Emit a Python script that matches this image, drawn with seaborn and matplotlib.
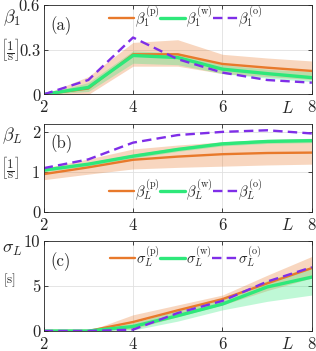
import numpy as np
import pandas as pd
import matplotlib
matplotlib.use('Agg')
import matplotlib.pyplot as plt
import seaborn as sns

sns.set_style('ticks')
plt.rcParams['font.family'] = ['cmr10', 'DejaVu Serif']
plt.rcParams['mathtext.fontset'] = 'cm'
plt.rcParams['axes.formatter.use_mathtext'] = True

# data
L = [2, 3, 4, 5, 6, 7, 8]

b1_p = [0, 0.04, 0.27, 0.27, 0.205, 0.18, 0.158]
b1_p_lo = [0, 0.0, 0.19, 0.19, 0.14, 0.12, 0.10]
b1_p_hi = [0, 0.12, 0.35, 0.368, 0.27, 0.245, 0.225]
b1_w = [0, 0.047, 0.262, 0.248, 0.17, 0.14, 0.113]
b1_w_lo = [0, 0.02, 0.21, 0.2, 0.14, 0.11, 0.086]
b1_w_hi = [0, 0.08, 0.293, 0.28, 0.2, 0.17, 0.153]
b1_o = [0, 0.097, 0.383, 0.237, 0.147, 0.097, 0.079]

bL_p = [0.95, 1.12, 1.31, 1.39, 1.45, 1.48, 1.49]
bL_p_lo = [0.81, 0.95, 1.08, 1.12, 1.15, 1.18, 1.2]
bL_p_hi = [1.1, 1.33, 1.58, 1.68, 1.76, 1.82, 1.85]
bL_w = [1.05, 1.2, 1.4, 1.57, 1.71, 1.77, 1.79]
bL_w_lo = [1.01, 1.16, 1.35, 1.52, 1.66, 1.72, 1.74]
bL_w_hi = [1.09, 1.24, 1.45, 1.62, 1.76, 1.82, 1.84]
bL_o = [1.1, 1.32, 1.74, 1.93, 2.01, 2.05, 1.97]

sL_p = [0, 0, 1.0, 2.3, 3.55, 5.3, 7.0]
sL_p_lo = [0, 0, 0.2, 1.6, 2.9, 4.5, 5.9]
sL_p_hi = [0, 0, 1.8, 2.9, 4.0, 6.2, 8.3]
sL_w = [0, 0, 0.5, 1.7, 3.0, 4.9, 6.0]
sL_w_lo = [0, 0, 0.1, 1.1, 2.35, 3.3, 4.0]
sL_w_hi = [0, 0, 0.9, 2.3, 3.5, 5.6, 7.2]
sL_o = [0, 0, 0.15, 2.0, 3.35, 5.5, 7.1]

c_p = '#E8792B'
c_w = '#2EE87A'
c_o = '#7F2EE8'

panels = [
    dict(lab='(a)', sym=r'\beta_1', unit=r'$\left[\dfrac{1}{\mathrm{s}}\right]$',
         p=(b1_p, b1_p_lo, b1_p_hi), w=(b1_w, b1_w_lo, b1_w_hi), o=b1_o,
         ylim=(0, 0.6), yticks=[0, 0.3, 0.6], yticklabels=['0', '0.3', '0.6'],
         leg_y=0.87),
    dict(lab='(b)', sym=r'\beta_L', unit=r'$\left[\dfrac{1}{\mathrm{s}}\right]$',
         p=(bL_p, bL_p_lo, bL_p_hi), w=(bL_w, bL_w_lo, bL_w_hi), o=bL_o,
         ylim=(0, 2.21), yticks=[0, 1, 2], yticklabels=['0', '1', '2'],
         leg_y=0.25),
    dict(lab='(c)', sym=r'\sigma_L', unit=r'$[\mathrm{s}]$',
         p=(sL_p, sL_p_lo, sL_p_hi), w=(sL_w, sL_w_lo, sL_w_hi), o=sL_o,
         ylim=(0, 10), yticks=[0, 5, 10], yticklabels=['0', '5', '10'],
         leg_y=0.83),
]

fig = plt.figure(figsize=(3.16, 3.51), dpi=100)
# [left, bottom, width, height] in figure fractions
boxes = [[0.138, 0.731, 0.849, 0.254],
         [0.138, 0.396, 0.849, 0.251],
         [0.138, 0.057, 0.849, 0.256]]

for pan, box in zip(panels, boxes):
    ax = fig.add_axes(box)
    p, p_lo, p_hi = pan['p']
    w, w_lo, w_hi = pan['w']
    sym = pan['sym']
    ax.fill_between(L, p_lo, p_hi, color=c_p, alpha=0.3, lw=0)
    ax.fill_between(L, w_lo, w_hi, color=c_w, alpha=0.3, lw=0)
    sns.lineplot(x=L, y=p, color=c_p, lw=1.7, ax=ax,
                 label=r'$%s^{(\mathrm{p})}$' % sym)
    sns.lineplot(x=L, y=w, color=c_w, lw=2.4, ax=ax,
                 label=r'$%s^{(\mathrm{w})}$' % sym)
    sns.lineplot(x=L, y=pan['o'], color=c_o, lw=1.7, ax=ax,
                 label=r'$%s^{(\mathrm{o})}$' % sym)
    ax.lines[-1].set_dashes((4, 2.2))
    ax.set_xlim(2, 8)
    ax.set_ylim(*pan['ylim'])
    ax.set_xticks([2, 4, 6, 8])
    ax.set_xticklabels(['2', '4', '6', '8'])
    ax.set_yticks(pan['yticks'])
    ax.set_yticklabels(pan['yticklabels'])
    ax.tick_params(direction='in', labelsize=12, length=3, width=0.6,
                   top=True, right=True)
    ax.tick_params(axis='x', pad=4)
    ax.tick_params(axis='y', pad=2.5)
    ax.grid(True, color='#e0e0e0', lw=0.6)
    for s in ax.spines.values():
        s.set_linewidth(0.6)
    ax.text(0.025, 0.88, pan['lab'], transform=ax.transAxes, fontsize=12,
            va='top', ha='left')
    ax.text(7.46, -0.06, '$L$', transform=ax.get_xaxis_transform(),
            fontsize=12, ha='center', va='top')
    ax.text(-0.118, 0.98, '$%s$' % sym, transform=ax.transAxes, fontsize=13,
            ha='center', va='top')
    ax.text(-0.127, 0.66, pan['unit'], transform=ax.transAxes, fontsize=9.5,
            ha='center', va='top')
    ax.legend(ncol=3, frameon=False, fontsize=10.5, handlelength=1.7,
              handletextpad=0.05, columnspacing=0.05, borderaxespad=0,
              borderpad=0, loc='center', bbox_to_anchor=(0.53, pan['leg_y']))

fig.savefig('out.png', dpi=100)
